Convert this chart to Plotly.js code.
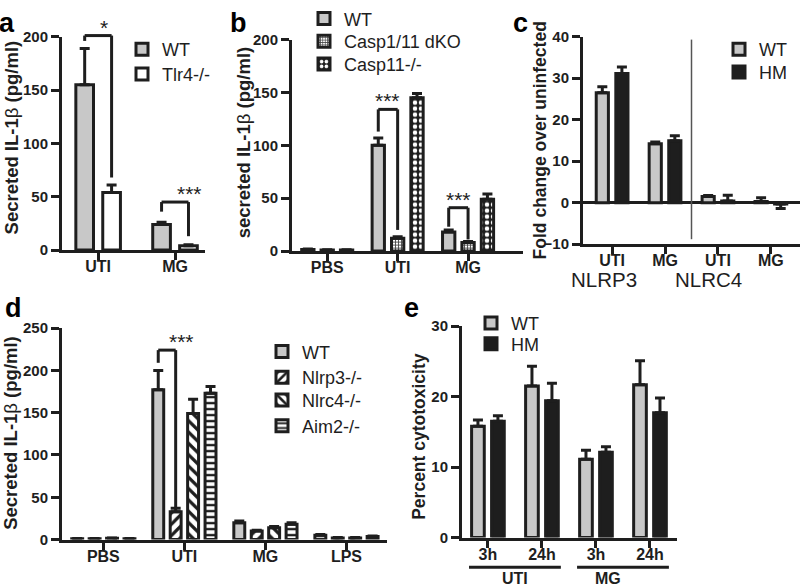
<!DOCTYPE html>
<html>
<head>
<meta charset="utf-8">
<script src="https://cdn.plot.ly/plotly-3.0.1.min.js"></script>
<style>html,body{margin:0;padding:0;background:#fff}#chart{width:800px;height:587px}</style>
</head>
<body>
<div id="chart"></div>
<script>
// ---------------- DATA ----------------
// Panel a
const catsA = ['UTI', 'MG'];
const wtA = [155, 24];
const wtAerr = [34, 2];
const tlr4A = [54, 4];
const tlr4Aerr = [7, 1];

// Panel b
const catsB = ['PBS', 'UTI', 'MG'];
const wtB = [1.5, 100, 18];
const wtBerr = [0.5, 7, 2];
const dkoB = [1, 12, 8];
const dkoBerr = [0.3, 1.5, 1];
const c11B = [1, 145, 49];
const c11Berr = [0.3, 4, 5];

// Panel c
const catsC = ['UTI', 'MG', 'UTI', 'MG'];
const genesC = ['NLRP3', 'NLRC4'];
const wtC = [26.5, 14.2, 1.5, 0.3];
const wtCerr = [1.4, 0.4, 0.2, 0.9];
const hmC = [31.1, 14.9, 0.4, -0.3];
const hmCerr = [1.6, 1.2, 1.4, 1.1];

// Panel d
const catsD = ['PBS', 'UTI', 'MG', 'LPS'];
const wtD = [1, 177, 20, 5];
const wtDerr = [0.3, 23, 2, 1];
const nlrp3D = [1, 33, 10, 2];
const nlrp3Derr = [0.3, 4, 1, 0.5];
const nlrc4D = [1.5, 149, 14, 2];
const nlrc4Derr = [0.3, 17, 1.5, 0.5];
const aim2D = [1, 173, 18, 3.5];
const aim2Derr = [0.3, 8, 2, 0.7];

// Panel e
const catsE = ['3h', '24h', '3h', '24h'];
const groupsE = ['UTI', 'MG'];
const wtE = [15.8, 21.5, 11.1, 21.7];
const wtEerr = [0.9, 2.8, 1.3, 3.4];
const hmE = [16.5, 19.4, 12.1, 17.7];
const hmEerr = [0.8, 2.5, 0.8, 2.1];

// Significance markers: category, bar i -> bar j, label, bracket top, arm ends (data units)
const sigA = [
  {cat: 0, i: 0, j: 1, label: '*', top: 201, leftEnd: 196, rightEnd: 68},
  {cat: 1, i: 0, j: 1, label: '***', top: 45, leftEnd: 36, rightEnd: 13}
];
const sigB = [
  {cat: 1, i: 0, j: 1, label: '***', top: 134, leftEnd: 113, rightEnd: 20},
  {cat: 2, i: 0, j: 1, label: '***', top: 41, leftEnd: 23, rightEnd: 11}
];
const sigD = [
  {cat: 1, i: 0, j: 1, label: '***', top: 224, leftEnd: 209, rightEnd: 38}
];

// ---------------- STYLE / LAYOUT ----------------
const FONT = 'Arial, "Liberation Sans", sans-serif';
const INK = '#1e1e1e';
const GREY = '#c8c8c8';
const W = 800, H = 587;

const IL1B = 'Secreted IL-1<span style="font-weight:normal">β</span> (pg/ml)';
const il1bLower = 'secreted IL-1<span style="font-weight:normal">β</span> (pg/ml)';

// panel geometry: axis box in px, ranges, bar slot/width, y-title text/size/centre
const P = {
  a: {xref: 'x',  yref: 'y',  xpx: [62, 205],  ypx: [30, 246],  xr: [-0.47, 1.39], yr: [0, 200], dtick: 50, slot: 0.35, bw: 0.23, n: 2,
      title: IL1B, tf: 18.5, tpos: [11, 132]},
  b: {xref: 'x2', yref: 'y2', xpx: [292, 523], ypx: [33, 247],  xr: [-0.5, 2.78],  yr: [0, 200], dtick: 50, slot: 0.275, bw: 0.175, n: 3,
      title: il1bLower, tf: 18.5, tpos: [243, 137]},
  c: {xref: 'x3', yref: 'y3', xpx: [583, 800], ypx: [30, 240],  xr: [-0.55, 3.55], yr: [-10, 40], dtick: 10, slot: 0.37, bw: 0.23, n: 2,
      title: 'Fold change over uninfected', tf: 17.5, tpos: [540, 135]},
  d: {xref: 'x4', yref: 'y4', xpx: [62, 387],  ypx: [325, 539], xr: [-0.51, 3.5],  yr: [0, 250], dtick: 50, slot: 0.215, bw: 0.135, n: 4,
      title: IL1B, tf: 18.5, tpos: [11, 431]},
  e: {xref: 'x5', yref: 'y5', xpx: [462, 677], ypx: [323, 537], xr: [-0.48, 3.5],  yr: [0, 30],  dtick: 10, slot: 0.37, bw: 0.235, n: 2,
      title: 'Percent cytotoxicity', tf: 17.5, tpos: [419, 435]}
};

function dom(p) {
  return {x: [p.xpx[0] / W, p.xpx[1] / W], y: [1 - p.ypx[1] / H, 1 - p.ypx[0] / H]};
}
function paperX(p, v) { const d = dom(p).x; return d[0] + (v - p.xr[0]) / (p.xr[1] - p.xr[0]) * (d[1] - d[0]); }
function paperY(p, v) { const d = dom(p).y; return d[0] + (v - p.yr[0]) / (p.yr[1] - p.yr[0]) * (d[1] - d[0]); }
function barOffset(p, i) { return -p.n * p.slot / 2 + i * p.slot + (p.slot - p.bw) / 2; }
function barCenter(p, cat, i) { return cat + barOffset(p, i) + p.bw / 2; }

function barTrace(p, cats, vals, errs, name, marker, i, legend) {
  return {
    type: 'bar', x: cats.map((_, k) => k), y: vals, name: name, legend: legend,
    xaxis: p.xref, yaxis: p.yref, width: p.bw, offset: barOffset(p, i),
    marker: Object.assign({line: {color: INK, width: 3}}, marker),
    error_y: {type: 'data', symmetric: false,
      array: vals.map((v, k) => v >= 0 ? errs[k] : 0),
      arrayminus: vals.map((v, k) => v < 0 ? errs[k] : 0),
      color: INK, thickness: 3, width: 5},
    hoverinfo: 'skip'
  };
}

const mWT = {color: GREY};
const mWhite = {color: '#ffffff'};
const mBlack = {color: INK};
const mDKO = {color: '#ffffff', pattern: {shape: '+', fgcolor: '#444', bgcolor: '#ffffff', size: 3, solidity: 0.5}};
const mC11 = {color: INK, pattern: {shape: '.', fgcolor: '#ffffff', bgcolor: INK, size: 6, solidity: 0.45}};
const mNlrp3 = {color: '#ffffff', pattern: {shape: '/', fgcolor: INK, bgcolor: '#ffffff', size: 8, solidity: 0.4}};
const mNlrc4 = {color: '#ffffff', pattern: {shape: '\\', fgcolor: INK, bgcolor: '#ffffff', size: 8, solidity: 0.4}};
const mAim2 = {color: '#ffffff', pattern: {shape: '-', fgcolor: INK, bgcolor: '#ffffff', size: 6, solidity: 0.4}};

// each legend entry gets its own legend box so it can sit exactly where the reference has it
const traces = [
  barTrace(P.a, catsA, wtA, wtAerr, 'WT', mWT, 0, 'legend'),
  barTrace(P.a, catsA, tlr4A, tlr4Aerr, 'Tlr4-/-', mWhite, 1, 'legend2'),
  barTrace(P.b, catsB, wtB, wtBerr, 'WT', mWT, 0, 'legend3'),
  barTrace(P.b, catsB, dkoB, dkoBerr, 'Casp1/11 dKO', mDKO, 1, 'legend4'),
  barTrace(P.b, catsB, c11B, c11Berr, 'Casp11-/-', mC11, 2, 'legend5'),
  barTrace(P.c, catsC, wtC, wtCerr, 'WT', mWT, 0, 'legend6'),
  barTrace(P.c, catsC, hmC, hmCerr, 'HM', mBlack, 1, 'legend7'),
  barTrace(P.d, catsD, wtD, wtDerr, 'WT', mWT, 0, 'legend8'),
  barTrace(P.d, catsD, nlrp3D, nlrp3Derr, 'Nlrp3-/-', mNlrp3, 1, 'legend9'),
  barTrace(P.d, catsD, nlrc4D, nlrc4Derr, 'Nlrc4-/-', mNlrc4, 2, 'legend10'),
  barTrace(P.d, catsD, aim2D, aim2Derr, 'Aim2-/-', mAim2, 3, 'legend11'),
  barTrace(P.e, catsE, wtE, wtEerr, 'WT', mWT, 0, 'legend12'),
  barTrace(P.e, catsE, hmE, hmEerr, 'HM', mBlack, 1, 'legend13')
];
// legend text start (x px) and centre line (y px)
const legendPos = [
  [163, 43], [163, 68],
  [345, 12], [345, 35], [345, 58],
  [760, 43], [760, 66],
  [303, 349], [303, 375], [303, 398], [303, 424],
  [512, 320], [512, 341]
];

const tickFont = {family: FONT, size: 15, color: INK, weight: 'bold'};
const catFont = {family: FONT, size: 16, color: INK, weight: 'bold'};

function xAxis(p, cats) {
  const vals = cats.map((_, k) => k);
  return {domain: dom(p).x, range: p.xr, anchor: p.yref, tickmode: 'array',
    tickvals: vals, ticktext: cats, showline: true, linewidth: 3, linecolor: INK,
    ticks: '', showgrid: false, zeroline: false, tickfont: catFont, fixedrange: true,
    minor: {tickmode: 'array', tickvals: vals, ticks: 'outside', ticklen: 7, tickwidth: 3, tickcolor: INK, showgrid: false}};
}
function yAxis(p, extra) {
  return Object.assign({domain: dom(p).y, range: p.yr, anchor: p.xref, tick0: 0, dtick: p.dtick,
    showline: true, linewidth: 3, linecolor: INK, ticks: 'outside', ticklen: 8, tickwidth: 3, tickcolor: INK,
    showgrid: false, zeroline: false, tickfont: tickFont, fixedrange: true}, extra || {});
}

const shapes = [];
const annotations = [];

// y-axis titles
Object.keys(P).forEach(k => {
  const p = P[k];
  annotations.push({xref: 'paper', yref: 'paper', x: p.tpos[0] / W, y: 1 - p.tpos[1] / H, text: p.title,
    textangle: -90, showarrow: false, xanchor: 'center', yanchor: 'middle',
    font: {family: FONT, size: p.tf, color: INK, weight: 'bold'}});
});

function addSig(p, list) {
  list.forEach(s => {
    const xl = paperX(p, barCenter(p, s.cat, s.i));
    const xr = paperX(p, barCenter(p, s.cat, s.j));
    const yt = paperY(p, s.top);
    const ln = {type: 'line', xref: 'paper', yref: 'paper', line: {color: INK, width: 3}, layer: 'above'};
    shapes.push(Object.assign({}, ln, {x0: xl, x1: xr, y0: yt, y1: yt}));
    shapes.push(Object.assign({}, ln, {x0: xl, x1: xl, y0: yt, y1: paperY(p, s.leftEnd)}));
    shapes.push(Object.assign({}, ln, {x0: xr, x1: xr, y0: yt, y1: paperY(p, s.rightEnd)}));
    annotations.push({xref: 'paper', yref: 'paper', x: (xl + xr) / 2, y: yt, yanchor: 'bottom', yshift: -5,
      text: s.label, showarrow: false, font: {family: FONT, size: 21, color: INK}});
  });
}
addSig(P.a, sigA);
addSig(P.b, sigB);
addSig(P.d, sigD);

// panel c separator line between NLRP3 and NLRC4
shapes.push({type: 'line', xref: 'paper', yref: 'paper', x0: paperX(P.c, 1.5), x1: paperX(P.c, 1.5),
  y0: 1 - 33 / H, y1: 1 - 235 / H, line: {color: '#555', width: 1.5}});
// panel c gene labels
genesC.forEach((g, k) => {
  annotations.push({xref: 'paper', yref: 'paper', x: paperX(P.c, 2 * k + 0.5), y: 1 - 276 / H,
    text: g, showarrow: false, yanchor: 'middle', font: {family: FONT, size: 20.5, color: INK}});
});
// panel e group labels with underline bars
groupsE.forEach((g, k) => {
  const x0 = paperX(P.e, 2 * k - 0.35), x1 = paperX(P.e, 2 * k + 1 + 0.35);
  shapes.push({type: 'line', xref: 'paper', yref: 'paper', x0: x0, x1: x1, y0: 1 - 567 / H, y1: 1 - 567 / H,
    line: {color: INK, width: 3}});
  annotations.push({xref: 'paper', yref: 'paper', x: (x0 + x1) / 2, y: 1 - 578 / H, text: g, showarrow: false,
    yanchor: 'middle', font: catFont});
});
// panel letters
[['a', 7, 16], ['b', 238, 16], ['c', 520, 16], ['d', 13, 305], ['e', 411, 305]].forEach(l => {
  annotations.push({xref: 'paper', yref: 'paper', x: l[1] / W, y: 1 - l[2] / H, text: l[0], showarrow: false,
    xanchor: 'center', yanchor: 'middle', font: {family: FONT, size: 27, color: '#000', weight: 'bold'}});
});

const layout = {
  width: W, height: H, margin: {l: 0, r: 0, t: 0, b: 0}, paper_bgcolor: '#fff', plot_bgcolor: 'rgba(0,0,0,0)',
  barmode: 'overlay', font: {family: FONT, color: INK}, showlegend: true,
  xaxis: xAxis(P.a, catsA), yaxis: yAxis(P.a),
  xaxis2: xAxis(P.b, catsB), yaxis2: yAxis(P.b),
  xaxis3: xAxis(P.c, catsC), yaxis3: yAxis(P.c, {zeroline: true, zerolinewidth: 3, zerolinecolor: INK}),
  xaxis4: xAxis(P.d, catsD), yaxis4: yAxis(P.d),
  xaxis5: xAxis(P.e, catsE), yaxis5: yAxis(P.e),
  shapes: shapes, annotations: annotations
};
legendPos.forEach((pos, k) => {
  const key = k === 0 ? 'legend' : 'legend' + (k + 1);
  layout[key] = {x: (pos[0] - 41) / W, y: 1 - pos[1] / H, xanchor: 'left', yanchor: 'middle',
    bgcolor: 'rgba(0,0,0,0)', font: {family: FONT, size: 18, color: INK}, itemclick: false, itemdoubleclick: false};
});

Plotly.newPlot('chart', traces, layout, {staticPlot: true, displayModeBar: false});
</script>
</body>
</html>
